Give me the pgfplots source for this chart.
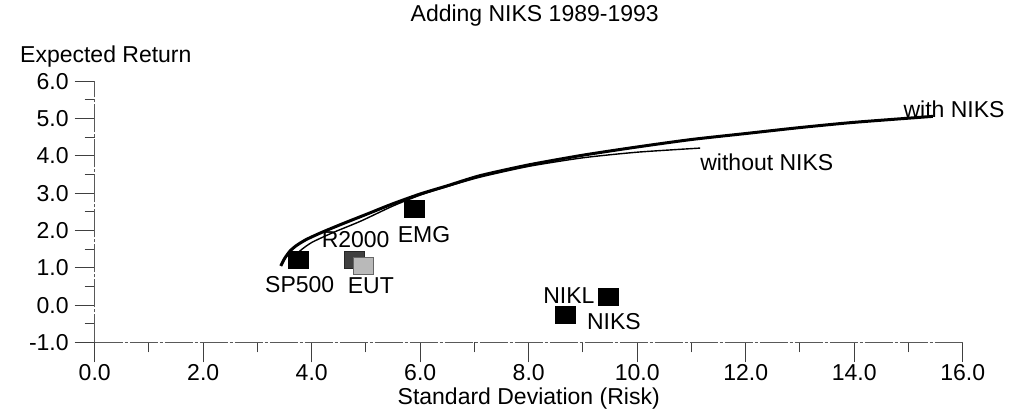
\documentclass[border=0pt]{standalone}
\usepackage{fontspec}
\setmainfont{Liberation Sans}
\usepackage{pgfplots}
\pgfplotsset{compat=1.18}

\begin{document}
\fontsize{11.5}{13}\selectfont
\begin{tikzpicture}
\useasboundingbox (-47.35pt,-36.25pt) rectangle (458.15pt,171.25pt);
\begin{axis}[
    scale only axis,
    width=434pt, height=130.6pt,
    xmin=0, xmax=16, ymin=-1, ymax=6,
    clip=false,
    axis x line*=bottom, axis y line*=left,
    axis line style={-, black!65, dash pattern=on 14pt off 1pt on 1.5pt off 1pt},
    xtick={0,2,...,16}, ytick={-1,0,...,6},
    minor x tick num=1, minor y tick num=1,
    tick align=outside,
    major tick length=10pt, minor tick length=5pt,
    tick style={black!75, line width=0.5pt},
    /pgf/number format/assume math mode=true,
    /pgf/number format/.cd, fixed, fixed zerofill, precision=1,
    /pgfplots/.cd,
    ticklabel style={font=\fontsize{11.5}{13}\selectfont},
    xticklabel style={yshift=3pt},
    yticklabel style={xshift=1pt},
    title={Adding NIKS 1989-1993},
    title style={at={(rel axis cs:0.5,1)}, anchor=base, yshift=24pt, xshift=3pt},
    xlabel={Standard Deviation (Risk)},
    xlabel style={at={(rel axis cs:0.5,0)}, anchor=center, yshift=-28pt},
    ylabel={Expected Return},
    every axis y label/.style={at={(rel axis cs:0,1)}, anchor=base west, xshift=-41.3pt, yshift=9.5pt},
]
% without NIKS (thin)
\addplot[black, line width=0.7pt, smooth, tension=0.4, no marks] coordinates {
  (3.62,1.2) (3.78,1.45) (4.0,1.68) (4.4,1.95) (4.9,2.25) (5.5,2.66)
  (6.0,2.95) (6.5,3.18) (7.1,3.43) (8.0,3.72) (9.0,3.95) (10.0,4.1) (11.16,4.21)
};
% with NIKS (thick)
\addplot[black, line width=1.5pt, smooth, tension=0.4, no marks] coordinates {
  (3.43,1.05) (3.5,1.25) (3.6,1.45) (3.72,1.6) (3.9,1.76) (4.2,1.96)
  (4.6,2.2) (5.0,2.43) (5.5,2.72) (6.0,2.98) (6.5,3.2) (7.1,3.47)
  (8.0,3.76) (9.0,4.02) (10.0,4.24) (11.0,4.44) (12.0,4.6) (13.0,4.76)
  (14.0,4.9) (15.45,5.06)
};
% assets
\addplot[only marks, mark=square*, mark size=5pt, mark options={yscale=0.85, fill=black, draw=black}]
  coordinates {(3.75,1.2) (5.9,2.57) (9.47,0.23) (8.67,-0.26)};
\addplot[only marks, mark=square*, mark size=5pt, mark options={yscale=0.85, fill=black!75, draw=black!85}]
  coordinates {(4.79,1.2)};
\addplot[only marks, mark=square*, mark size=5pt, mark options={yscale=0.85, fill=gray!55, draw=black!60}]
  coordinates {(4.95,1.05)};
\node at (axis cs:3.78,0.54) {SP500};
\node at (axis cs:4.81,1.75) {R2000};
\node at (axis cs:5.09,0.52) {EUT};
\node at (axis cs:6.07,1.88) {EMG};
\node at (axis cs:8.74,0.25) {NIKL};
\node at (axis cs:9.57,-0.45) {NIKS};
\node at (axis cs:15.84,5.24) {with NIKS};
\node at (axis cs:12.39,3.84) {without NIKS};
\end{axis}
\end{tikzpicture}
\end{document}
